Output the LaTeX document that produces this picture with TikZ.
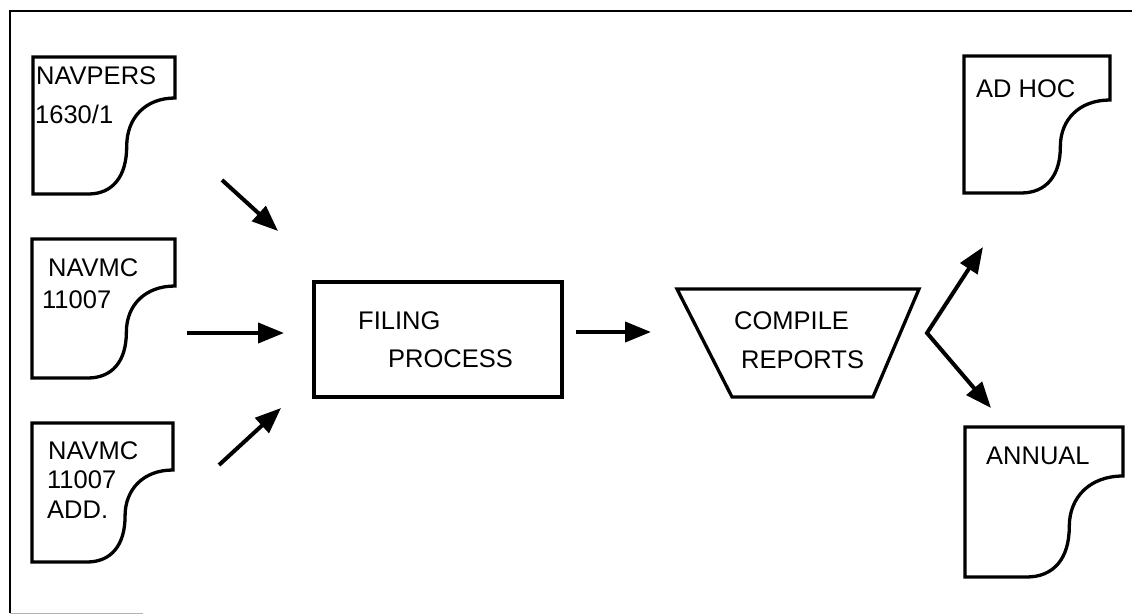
\documentclass[tikz,border=0pt]{standalone}
\usepackage{fontspec}
\setmainfont{Liberation Sans}
\usetikzlibrary{arrows.meta}
\newcommand\mydocpath[5]{%
  \pgfmathsetmacro\dcW{#3-#1}%
  \pgfmathsetmacro\dcXm{#1+0.66*\dcW}%
  \pgfmathsetmacro\dcYm{#5+0.5*(#4-#5)}%
  \pgfmathsetmacro\dcXb{#1+0.39*\dcW}%
  \pgfmathsetmacro\dcA{#3-0.21*\dcW}%
  \pgfmathsetmacro\dcB{#5+0.21*(#4-#5)}%
  \pgfmathsetmacro\dcC{\dcYm+0.32*(#4-#5)}%
  \pgfmathsetmacro\dcD{\dcXb+0.17*\dcW}%
  \draw[docline] (#1,#2) -- (#3,#2) -- (#3,#5)
    .. controls (\dcA,#5) and (\dcXm,\dcB) .. (\dcXm,\dcYm)
    .. controls (\dcXm,\dcC) and (\dcD,#4) .. (\dcXb,#4) -- (#1,#4) -- cycle;
}
\begin{document}
\begin{tikzpicture}[x=1pt,y=-1pt,
  docline/.style={line width=3.3pt,line join=miter},
  shapeline/.style={line width=3.3pt,line join=miter},
  lbl/.style={anchor=base west,inner sep=0pt,font=\fontsize{25.5}{30}\selectfont},
  arr/.style={line width=4pt,-{Triangle[length=26pt,width=20pt]}},
  darr/.style={line width=4pt,line join=miter,{Triangle[length=26pt,width=20pt]}-{Triangle[length=26pt,width=20pt]}}]
\useasboundingbox (0,0) rectangle (1132,615);
% frame
\draw[line width=2.8pt] (10,613) -- (10,11) -- (1132,11);
\draw[line width=1.2pt,gray!60] (10,613.5) -- (143,613.5);
% documents
\mydocpath{33}{57}{175}{194}{98}
\mydocpath{32}{239}{175}{378}{286}
\mydocpath{32}{423}{173}{562}{470}
\mydocpath{964}{56}{1110}{193}{100}
\mydocpath{965}{427}{1123}{577}{476}
% document texts
\node[lbl] (t1a) at (36,85) {NAVPERS};
\node[lbl] (t1b) at (35,124) {1630/1};
\node[lbl] (t2a) at (48,276) {NAVMC};
\node[lbl] (t2b) at (42,308) {11007};
\node[lbl] (t3a) at (48,459) {NAVMC};
\node[lbl] (t3b) at (47,488) {11007};
\node[lbl] (t3c) at (47,518) {ADD.};
\node[lbl] (t4) at (976,98) {AD HOC};
\node[lbl] (t5) at (986,464) {ANNUAL};
% filing process box
\draw[shapeline] (314,282) rectangle (562,397);
\node[lbl] (fil) at (358,329) {FILING};
\node[lbl] (proc) at (388,367) {PROCESS};
% compile reports trapezoid
\draw[shapeline] (677,289) -- (919,289) -- (873,397) -- (732,397) -- cycle;
\node[lbl] (comp) at (734,329) {COMPILE};
\node[lbl] (rep) at (741,368) {REPORTS};
% arrow coordinates
\coordinate (a1s) at (222,180); \coordinate (a1e) at (278,231);
\coordinate (a2s) at (187,333); \coordinate (a2e) at (284,333);
\coordinate (a3s) at (219,465); \coordinate (a3e) at (281,408);
\coordinate (a4s) at (576,332); \coordinate (a4e) at (651,332);
\coordinate (a5u) at (983,247); \coordinate (a5v) at (927,333); \coordinate (a5d) at (991,408);
\draw[arr] (a1s) -- (a1e);
\draw[arr] (a2s) -- (a2e);
\draw[arr] (a3s) -- (a3e);
\draw[arr] (a4s) -- (a4e);
\draw[darr] (a5u) -- (a5v) -- (a5d);
\end{tikzpicture}
\end{document}
